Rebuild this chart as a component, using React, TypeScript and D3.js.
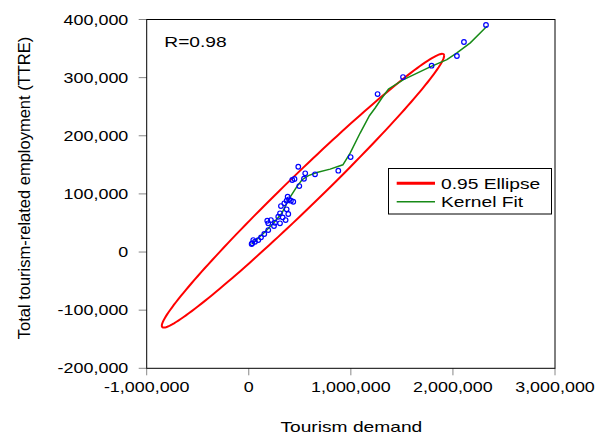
import React from 'react'
import * as d3 from 'd3'

// scatter points: tourism demand / TTRE
const demand = [
  2324000, 2108000, 2039000, 1791000, 1511000, 1262000, 998000, 877000, 649000, 553000,
  541000, 485000, 426000, 448000, 495000, 381000, 394000, 371000, 413000, 436000,
  348000, 315000, 371000, 306000, 387000, 289000, 332000, 361000, 181000, 217000,
  191000, 257000, 306000, 247000, 191000, 152000, 120000, 93000, 61000, 44000,
  34000, 28000,
]
const employment = [
  390500, 361300, 337200, 320500, 301000, 271800, 163400, 139900, 133700, 135400,
  126100, 146700, 123900, 125600, 113500, 95100, 90700, 88300, 88300, 86500,
  83800, 79100, 73500, 66600, 65400, 60700, 59700, 55000, 53800, 55000,
  49400, 50400, 49400, 44700, 37800, 31000, 25300, 20600, 17700, 20600,
  15000, 13800,
]

// kernel fit curve
const kernelX = [
  29000, 143000, 241000, 324000, 388000, 471000, 520000, 584000, 667000, 797000,
  922000, 993000, 1091000, 1182000, 1238000, 1304000, 1369000, 1516000, 1777000, 1941000,
  2039000, 2170000, 2333000,
]
const kernelY = [
  13800, 32000, 49500, 66700, 89700, 112600, 124000, 131500, 136700, 142600,
  150000, 170000, 204700, 234500, 247800, 265000, 280500, 296600, 318400, 331000,
  342600, 359800, 388400,
]

// 0.95 ellipse statistics
const ellipseStats = { meanX: 531000, meanY: 105500, sdX: 565000, sdY: 96200, r: 0.986, chi2: 5.991 }

const xTicks = [-1000000, 0, 1000000, 2000000, 3000000]
const yTicks = [-200000, -100000, 0, 100000, 200000, 300000, 400000]
const legendLabels = ['0.95 Ellipse', 'Kernel Fit']

const FONT = '"Liberation Sans", Arial, sans-serif'
const SX = 1.28

const T = ({ x, y, size, anchor = 'start', children }: any) => (
  <text
    transform={`translate(${x},${y}) scale(${SX},1)`}
    fontSize={size}
    textAnchor={anchor}
    fontFamily={FONT}
    fill="#000"
  >
    {children}
  </text>
)

export default function App() {
  const left = 146.7, right = 555, top = 19.5, bottom = 368.3
  const x = d3.scaleLinear().domain([-1000000, 3000000]).range([left, right])
  const y = d3.scaleLinear().domain([-200000, 400000]).range([bottom, top])
  const fmt = (v: number) => d3.format(',')(v).replace('\u2212', '-')

  const { meanX, meanY, sdX, sdY, r, chi2 } = ellipseStats
  const k = Math.sqrt(chi2)
  const ell = d3.range(0, 361, 2).map((deg) => {
    const t = (deg * Math.PI) / 180
    return [
      meanX + k * sdX * Math.cos(t),
      meanY + k * sdY * (r * Math.cos(t) + Math.sqrt(1 - r * r) * Math.sin(t)),
    ]
  })
  const line = d3.line<number[]>().x((d) => x(d[0])).y((d) => y(d[1]))
  const kernel = kernelX.map((v, i) => [v, kernelY[i]])

  return (
    <svg width={608} height={435} style={{ position: 'absolute', left: 0, top: 0, background: '#fff' }}>
      <rect x={0} y={0} width={608} height={435} fill="#fff" />
      {/* ticks */}
      {yTicks.map((t) => (
        <g key={t}>
          <line x1={left - 8} x2={left} y1={y(t)} y2={y(t)} stroke="#888" />
          <T x={128.3} y={y(t) + 5} size={14} anchor="end">{fmt(t)}</T>
        </g>
      ))}
      {xTicks.map((t) => (
        <g key={t}>
          <line x1={x(t)} x2={x(t)} y1={bottom} y2={bottom + 7} stroke="#888" />
          <T x={x(t)} y={392.3} size={14} anchor="middle">{fmt(t)}</T>
        </g>
      ))}
      <rect x={left} y={top} width={right - left} height={bottom - top} fill="none" stroke="#000" />

      <path d={line(ell) || ''} fill="none" stroke="#ff0000" strokeWidth={2} />
      <path d={line(kernel) || ''} fill="none" stroke="#178a17" strokeWidth={1.5} />
      {demand.map((v, i) => (
        <circle key={i} cx={x(v)} cy={y(employment[i])} r={2.3} fill="none" stroke="#0000ff" strokeWidth={1.2} />
      ))}

      <T x={164.3} y={46.7} size={15}>R=0.98</T>

      {/* legend */}
      <rect x={388.5} y={168.5} width={163} height={45.5} fill="#fff" stroke="#000" />
      <line x1={396.7} x2={435} y1={183.3} y2={183.3} stroke="#ff0000" strokeWidth={3} />
      <line x1={396.7} x2={435} y1={201.7} y2={201.7} stroke="#178a17" strokeWidth={1.5} />
      <T x={441} y={188.5} size={15}>{legendLabels[0]}</T>
      <T x={441} y={206.7} size={15}>{legendLabels[1]}</T>

      {/* axis titles */}
      <T x={351.3} y={432.3} size={15} anchor="middle">Tourism demand</T>
      <text
        transform="translate(29.5,188) rotate(-90)"
        fontSize={16.5}
        textAnchor="middle"
        fontFamily={FONT}
      >
        Total tourism-related employment (TTRE)
      </text>
    </svg>
  )
}
